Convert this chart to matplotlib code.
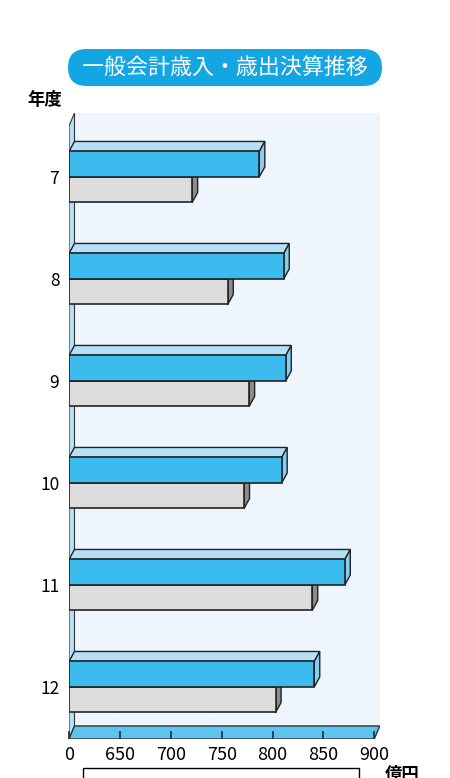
import matplotlib
matplotlib.use("Agg")
import matplotlib.pyplot as plt
from matplotlib.patches import Polygon, Rectangle, FancyBboxPatch
from matplotlib.transforms import IdentityTransform

plt.rcParams['font.family'] = ['Noto Sans CJK JP', 'DejaVu Sans']

# 年度と決算額（億円）
years = ['7', '8', '9', '10', '11', '12']
revenue = [787, 811, 813, 809, 871, 841]      # 歳入
expenditure = [721, 756, 777, 772, 839, 803]  # 歳出
xticks = [600, 650, 700, 750, 800, 850, 900]
xtick_labels = ['0', '650', '700', '750', '800', '850', '900']

BLUE = '#3BBBEE'
BLUE_TOP = '#B5E0F8'
BLUE_SIDE = '#86CDF0'
GRAY = '#DCDCDC'
GRAY_SIDE = '#8C8C8C'
BG = '#EEF5FC'
FLOOR = '#5EC3EF'

fig = plt.figure(figsize=(4.5, 7.78), dpi=100)
ax = fig.add_axes([69 / 450, 39 / 778, 311 / 450, 626 / 778])
ax.set_xlim(600, 600 + 311 / 1.0177)
ax.set_ylim(5.51, -0.627)
ax.set_facecolor('none')
for s in ax.spines.values():
    s.set_visible(False)

# profundidad (unidades de datos)
dx = 5.4
dy = -0.098
h = 0.25

# fondo y pared
ax.add_patch(Rectangle((600 + dx, -0.627), 400, 5.382 + 0.627, facecolor=BG,
                       edgecolor='none', zorder=0))
ax.add_patch(Polygon([(600, -0.5), (600 + dx, -0.627), (600 + dx, 5.382), (600, 5.51)],
                     closed=True, facecolor=BLUE_TOP, edgecolor='#333333', lw=0.8, zorder=1))
# suelo
ax.add_patch(Polygon([(600, 5.51), (900, 5.51), (900 + dx, 5.382), (600 + dx, 5.382)],
                     closed=True, facecolor=FLOOR, edgecolor='#333333', lw=1.0, zorder=1))

for i, (r, e) in enumerate(zip(revenue, expenditure)):
    # gris (歳出)
    ax.add_patch(Polygon([(e, i), (e, i + h), (e + dx, i + h + dy), (e + dx, i + dy)],
                         closed=True, facecolor=GRAY_SIDE, edgecolor='#222222', lw=1.0, zorder=2))
    ax.barh(i, e - 600, h, left=600, align='edge', color=GRAY, edgecolor='#222222',
            lw=1.2, zorder=3)
    # azul (歳入)
    top = i - h
    ax.add_patch(Polygon([(600, top), (r, top), (r + dx, top + dy), (600 + dx, top + dy)],
                         closed=True, facecolor=BLUE_TOP, edgecolor='#222222', lw=1.0, zorder=4))
    ax.add_patch(Polygon([(r, top), (r, i), (r + dx, i + dy), (r + dx, top + dy)],
                         closed=True, facecolor=BLUE_SIDE, edgecolor='#222222', lw=1.0, zorder=4))
    ax.barh(top, r - 600, h, left=600, align='edge', color=BLUE, edgecolor='#222222',
            lw=1.2, zorder=5)

ax.set_yticks(range(len(years)))
ax.set_yticklabels(years, fontsize=12.5)
ax.tick_params(axis='y', length=0, pad=7)
ax.set_xticks(xticks)
ax.set_xticklabels(xtick_labels, fontsize=13)
ax.tick_params(axis='x', direction='in', length=5.8, width=1.3, color='#333333', pad=5)

# título
fig.patches.append(FancyBboxPatch((68, 692), 314, 37,
                                  boxstyle='round,pad=0,rounding_size=18.5',
                                  facecolor='#13A6E2', edgecolor='none',
                                  transform=IdentityTransform(), figure=fig))
fig.text(225, 710.5, '一般会計歳入・歳出決算推移', color='white', fontsize=15.8,
         ha='center', va='center', transform=IdentityTransform())
fig.text(45, 678, '年度', fontsize=12.5, fontweight='bold', ha='center', va='center',
         transform=IdentityTransform())

# leyenda (cortada) y unidad
fig.patches.append(Rectangle((82.5, -10), 276, 20, facecolor='white', edgecolor='black',
                             lw=1.0, transform=IdentityTransform(), figure=fig))
fig.text(402, 12, '億円', fontsize=12.5, fontweight='bold', ha='center', va='top',
         transform=IdentityTransform())

fig.savefig('out.png', dpi=100)
